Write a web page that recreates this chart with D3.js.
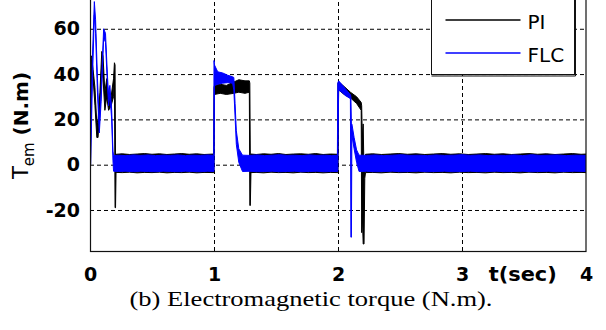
<!DOCTYPE html>
<html>
<head>
<meta charset="utf-8">
<script src="https://cdn.jsdelivr.net/npm/d3@7/dist/d3.min.js"></script>
<style>
  body { margin: 0; background: #fff; }
  svg { display: block; }
</style>
</head>
<body>
<svg id="chart" width="606" height="330"></svg>
<script>
const xTicks = [0, 1, 2, 3, 4];
const yTicks = [-20, 0, 20, 40, 60];
const seriesNames = ['PI', 'FLC'];

// [t (sec), lower edge, upper edge] of each trace
const piTrace = [
  [0, 0, 0], [0.005, 0, 48], [0.012, 40, 48], [0.025, 38, 42], [0.04, 26, 34],
  [0.055, 12, 18], [0.065, 12, 20], [0.08, 26, 32], [0.095, 44, 50], [0.105, 38, 48],
  [0.12, 24, 32], [0.135, 30, 38], [0.15, 24, 30], [0.17, 26, 30], [0.19, 30, 38],
  [0.197, 40, 45], [0.202, -19, 44], [0.206, -19, 0], [0.21, -3.4, 4.6],
  [0.26, -3.5, 4.8], [0.32, -3.3, 4.5], [0.38, -3.6, 4.7], [0.44, -3.4, 4.9], [0.5, -3.5, 4.6],
  [0.56, -3.3, 4.8], [0.62, -3.6, 4.5], [0.68, -3.4, 4.7], [0.74, -3.5, 4.9], [0.8, -3.3, 4.6],
  [0.86, -3.6, 4.8], [0.92, -3.4, 4.5], [0.998, -3.5, 4.7],
  [1.0, -3.5, 34], [1.004, 31, 35], [1.05, 31.5, 35.5], [1.1, 31, 35], [1.16, 31.5, 36.5],
  [1.2, 32, 37.5], [1.25, 31.5, 37], [1.285, 32, 37], [1.289, -18, 36], [1.293, -18, 1],
  [1.298, -3.5, 4.7],
  [1.34, -3.4, 4.5], [1.4, -3.6, 4.8], [1.46, -3.3, 4.6], [1.52, -3.5, 4.9], [1.58, -3.4, 4.5],
  [1.64, -3.6, 4.7], [1.7, -3.3, 4.8], [1.76, -3.5, 4.6], [1.82, -3.4, 4.9], [1.88, -3.6, 4.5],
  [1.94, -3.4, 4.7], [1.998, -3.5, 4.6],
  [2.0, -3.5, 36], [2.005, 33, 36.5], [2.05, 31, 34.5], [2.1, 29.5, 32], [2.15, 27, 30],
  [2.187, 24, 27.5], [2.191, -30, 26], [2.196, -22, 12], [2.203, -35, 18], [2.21, -35, -4],
  [2.216, -6, 2], [2.222, -3.5, 4.6],
  [2.28, -3.4, 4.8], [2.35, -3.6, 4.5], [2.42, -3.3, 4.7], [2.49, -3.5, 4.9], [2.56, -3.4, 4.6],
  [2.63, -3.6, 4.8], [2.7, -3.3, 4.5], [2.77, -3.5, 4.7], [2.84, -3.4, 4.9], [2.91, -3.6, 4.6],
  [2.98, -3.3, 4.8], [3.05, -3.5, 4.5], [3.12, -3.4, 4.7], [3.19, -3.6, 4.9], [3.26, -3.3, 4.6],
  [3.33, -3.5, 4.8], [3.4, -3.4, 4.5], [3.47, -3.6, 4.7], [3.54, -3.3, 4.9], [3.61, -3.5, 4.6],
  [3.68, -3.4, 4.8], [3.75, -3.6, 4.5], [3.82, -3.3, 4.7], [3.89, -3.5, 4.9], [3.96, -3.4, 4.6],
  [4.0, -3.5, 4.7]
];

const flcTrace = [
  [0, 0, 0], [0.005, 0, 12], [0.02, 38, 48], [0.035, 66, 72], [0.045, 58, 64],
  [0.06, 32, 38], [0.075, 14, 18], [0.09, 28, 32], [0.11, 56, 60], [0.125, 54, 58],
  [0.14, 36, 40], [0.15, 26, 30], [0.16, 31, 35], [0.175, 20, 24], [0.185, 2, 6],
  [0.19, -2.9, 4],
  [0.23, -3, 4.2], [0.29, -2.9, 4], [0.35, -3.1, 4.3], [0.41, -2.9, 4.1], [0.47, -3, 4.3],
  [0.53, -3.1, 4], [0.59, -2.9, 4.2], [0.65, -3, 4.1], [0.71, -3.1, 4.3], [0.77, -2.9, 4],
  [0.83, -3, 4.2], [0.89, -3.1, 4.1], [0.95, -2.9, 4.3], [0.998, -3, 4.1],
  [1.0, -3, 46], [1.004, 35, 44], [1.03, 35.5, 41], [1.07, 36, 40.5], [1.11, 36.2, 39.5],
  [1.15, 36, 38.8], [1.16, 33, 38.5], [1.17, 21, 27], [1.18, 9, 15], [1.2, 1, 7],
  [1.23, -3, 4.2],
  [1.29, -2.9, 4.1], [1.35, -3.1, 4.3], [1.41, -3, 4], [1.47, -2.9, 4.2], [1.53, -3.1, 4.4],
  [1.59, -3, 4.1], [1.65, -2.9, 4.2], [1.71, -3.1, 4], [1.77, -3, 4.3], [1.83, -2.9, 4.1],
  [1.89, -3.1, 4.2], [1.95, -3, 4], [1.995, -3, 4.1],
  [1.998, -3, 36], [2.005, 33, 37], [2.03, 32, 35.5], [2.06, 30.5, 33.5], [2.09, 29.5, 31.5],
  [2.1, 29, 31], [2.104, -32, 30], [2.108, -32, 18], [2.112, 13, 18], [2.13, 7, 12],
  [2.15, 1, 6.5], [2.17, -3, 4.2],
  [2.23, -2.9, 4.1], [2.3, -3.1, 4.3], [2.37, -3, 4], [2.44, -2.9, 4.2], [2.51, -3.1, 4.4],
  [2.58, -3, 4.1], [2.65, -2.9, 4.2], [2.72, -3.1, 4], [2.79, -3, 4.3], [2.86, -2.9, 4.1],
  [2.93, -3.1, 4.2], [3.0, -3, 4.4], [3.07, -2.9, 4.1], [3.14, -3.1, 4.3], [3.21, -3, 4],
  [3.28, -2.9, 4.2], [3.35, -3.1, 4.1], [3.42, -3, 4.3], [3.49, -2.9, 4], [3.56, -3.1, 4.4],
  [3.63, -3, 4.1], [3.7, -2.9, 4.2], [3.77, -3.1, 4.3], [3.84, -3, 4], [3.91, -2.9, 4.2],
  [4.0, -3, 4.1]
];

const svg = d3.select('#chart');
const margin = { top: 0, left: 90, right: 20, bottom: 79 };
const width = +svg.attr('width') - margin.left - margin.right;
const height = +svg.attr('height') - margin.top - margin.bottom;

const x = d3.scaleLinear().domain([0, 4]).range([0, width]);
const y = d3.scaleLinear().domain([-38.1, 72.7]).range([height, 0]);

svg.append('rect').attr('width', 606).attr('height', 330).attr('fill', '#fff');

svg.append('defs').append('clipPath').attr('id', 'plot-clip')
  .append('rect').attr('width', width).attr('height', height);

const g = svg.append('g').attr('transform', `translate(${margin.left},${margin.top})`);

// grid
const gridY = g.append('g')
  .call(d3.axisLeft(y).tickValues(yTicks).tickSize(-width).tickFormat(''));
gridY.select('.domain').remove();
const gridX = g.append('g')
  .attr('transform', `translate(0,${height})`)
  .call(d3.axisBottom(x).tickValues([1, 2, 3]).tickSize(height).tickFormat(''));
gridX.select('.domain').remove();
gridX.selectAll('line').attr('y2', -height);
g.selectAll('.tick line')
  .attr('stroke', '#000')
  .attr('stroke-width', 1)
  .attr('stroke-dasharray', '4,3');

// traces
const band = d3.area()
  .x((d) => x(d[0]))
  .y0((d) => y(d[1]))
  .y1((d) => y(d[2]));

const plot = g.append('g').attr('clip-path', 'url(#plot-clip)');
plot.append('path')
  .datum(piTrace)
  .attr('fill', '#000')
  .attr('stroke', '#000')
  .attr('stroke-width', 1)
  .attr('d', band);
plot.append('path')
  .datum(flcTrace)
  .attr('fill', '#0000ff')
  .attr('stroke', '#0000ff')
  .attr('stroke-width', 1)
  .attr('d', band);

// box
g.append('rect')
  .attr('x', 0.5).attr('y', -1)
  .attr('width', width - 0.5).attr('height', height + 1.5)
  .attr('fill', 'none')
  .attr('stroke', '#111')
  .attr('stroke-width', 1.2);

// tick labels
const axY = g.append('g')
  .call(d3.axisLeft(y).tickValues(yTicks).tickSize(0).tickPadding(10).tickFormat((d) => String(d)));
axY.select('.domain').remove();
const axX = g.append('g')
  .attr('transform', `translate(0,${height})`)
  .call(d3.axisBottom(x).tickValues(xTicks).tickSize(0).tickPadding(17).tickFormat((d) => String(d)));
axX.select('.domain').remove();
g.selectAll('.tick text')
  .attr('fill', '#000')
  .style('font-family', '"DejaVu Sans", sans-serif')
  .style('font-weight', 'bold')
  .style('font-size', '19px');

g.append('text')
  .attr('x', x(3.49)).attr('y', height + 30)
  .attr('text-anchor', 'middle')
  .attr('textLength', 68)
  .attr('lengthAdjust', 'spacingAndGlyphs')
  .style('font-family', '"DejaVu Sans", sans-serif')
  .style('font-weight', 'bold')
  .style('font-size', '19px')
  .text('t(sec)');

// y title
const yTitle = svg.append('text')
  .attr('transform', `translate(28,${height / 2}) rotate(-90)`)
  .attr('text-anchor', 'middle')
  .style('font-family', '"DejaVu Sans", sans-serif');
yTitle.append('tspan').style('font-size', '21px').text('T');
yTitle.append('tspan').attr('dy', 6).style('font-size', '15px').text('em');
yTitle.append('tspan').attr('dy', -6).style('font-size', '20px').style('font-weight', 'bold').text('\u00a0(N.m)');

// legend
const lg = svg.append('g').attr('transform', 'translate(431.5,-1)');
lg.append('rect')
  .attr('width', 143).attr('height', 75.5)
  .attr('fill', '#fff')
  .attr('stroke', '#111')
  .attr('stroke-width', 1);
lg.append('path')
  .attr('d', 'M144,0V77M0,77H144')
  .attr('fill', 'none')
  .attr('stroke', '#111')
  .attr('stroke-width', 1);
const legendColors = ['#000', '#0000ff'];
seriesNames.forEach((name, i) => {
  const ly = 21 + i * 33;
  lg.append('line')
    .attr('x1', 14).attr('x2', 89)
    .attr('y1', ly).attr('y2', ly)
    .attr('stroke', legendColors[i])
    .attr('stroke-width', 1.5);
  lg.append('text')
    .attr('x', 96).attr('y', ly + 9)
    .style('font-family', '"DejaVu Sans", sans-serif')
    .style('font-size', '20px')
    .text(name);
});

// caption
svg.append('text')
  .attr('x', 311).attr('y', 306)
  .attr('text-anchor', 'middle')
  .attr('textLength', 363)
  .attr('lengthAdjust', 'spacingAndGlyphs')
  .style('font-family', '"Liberation Serif", "Times New Roman", serif')
  .style('font-size', '21px')
  .text('(b) Electromagnetic torque (N.m).');
</script>
</body>
</html>
